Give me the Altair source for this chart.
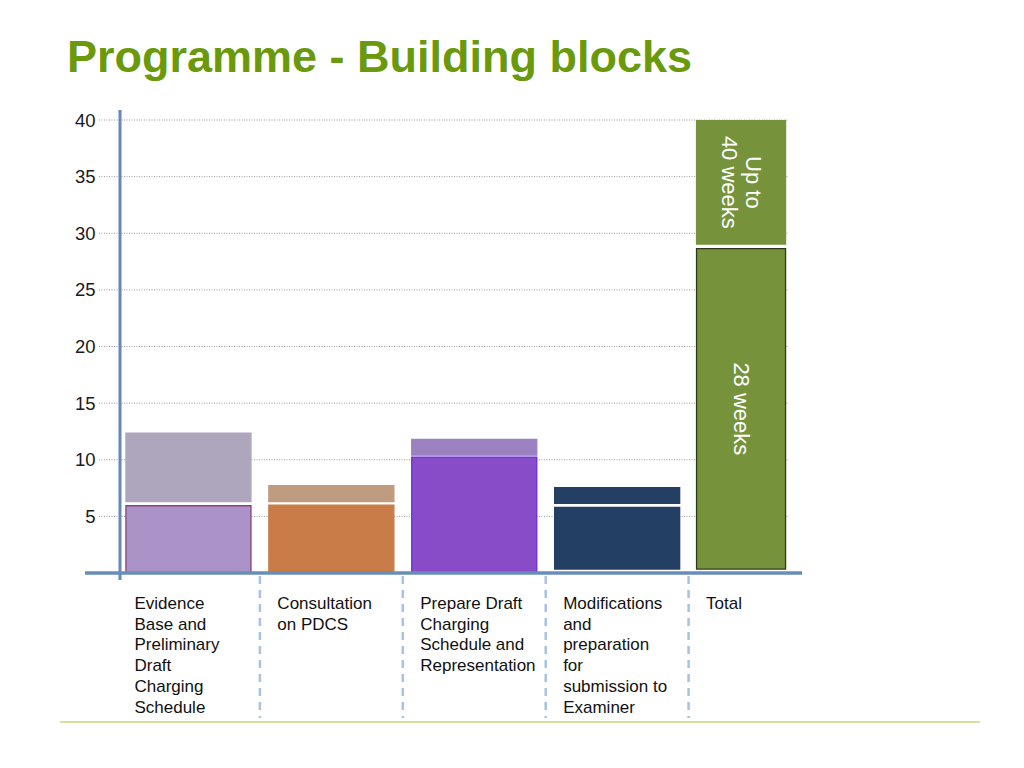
import altair as alt
import pandas as pd

# ---------------- data ----------------
categories = ["Evidence", "Consultation", "Prepare", "Modifications", "Total"]
category_labels = [
    "Evidence\nBase and\nPreliminary\nDraft\nCharging\nSchedule",
    "Consultation\non PDCS",
    "Prepare Draft\nCharging\nSchedule and\nRepresentation",
    "Modifications\nand\npreparation\nfor\nsubmission to\nExaminer",
    "Total",
]
lower_start = [0, 0, 0, 0.35, 0.35]
lower_end = [5.94, 6.0, 10.24, 5.8, 28.64]
upper_start = [6.3, 6.3, 10.4, 6.15, 29.05]
upper_end = [12.34, 7.71, 11.8, 7.53, 39.94]
total_texts = ["28 weeks", "Up to\n40 weeks"]
y_ticks = [5, 10, 15, 20, 25, 30, 35, 40]
title_text = "Programme - Building blocks"

# ---------------- styles ----------------
fill_colors = {
    "Evidence-lower": "#AB93C7", "Evidence-upper": "#AEA6BC",
    "Consultation-lower": "#C97C48", "Consultation-upper": "#BF9B80",
    "Prepare-lower": "#884CC8", "Prepare-upper": "#9C82C0",
    "Modifications-lower": "#243F64", "Modifications-upper": "#243F64",
    "Total-lower": "#76933C", "Total-upper": "#76933C",
}
stroke_colors = {
    "Evidence-lower": "#8C3F7E", "Evidence-upper": "#AEA6BC",
    "Consultation-lower": "#C97C48", "Consultation-upper": "#BF9B80",
    "Prepare-lower": "#6A2DE6", "Prepare-upper": "#9C82C0",
    "Modifications-lower": "#243F64", "Modifications-upper": "#243F64",
    "Total-lower": "#2B3A1E", "Total-upper": "#76933C",
}
keys = list(fill_colors.keys())

W, H = 711, 453
FONT = "Liberation Sans"

rows = []
for i, c in enumerate(categories):
    rows.append({"cat": c, "key": f"{c}-lower", "lo": lower_start[i], "hi": lower_end[i]})
    rows.append({"cat": c, "key": f"{c}-upper", "lo": upper_start[i], "hi": upper_end[i]})
bars = pd.DataFrame(rows)

xscale = alt.Scale(domain=categories, range=[-3, 711.5], paddingInner=0, paddingOuter=0)
yscale = alt.Scale(domain=[0, 40], nice=False, zero=True)

one = pd.DataFrame({"k": [0]})

# grid + y axis
grid = alt.Chart(pd.DataFrame({"v": y_ticks})).mark_rule(
    color="#9a9a9a", strokeDash=[1, 1.5], strokeWidth=1
).encode(
    y=alt.Y("v:Q", scale=yscale, axis=alt.Axis(
        values=y_ticks, title=None, domain=False, ticks=False, grid=False,
        labelPadding=25, labelFontSize=18.5, labelColor="#1a1a1a", labelFont=FONT)),
    x=alt.value(-21), x2=alt.value(668),
)

fill_enc = alt.Fill("key:N", scale=alt.Scale(domain=keys, range=[fill_colors[k] for k in keys]), legend=None)
stroke_enc = alt.Stroke("key:N", scale=alt.Scale(domain=keys, range=[stroke_colors[k] for k in keys]), legend=None)

bars_main = alt.Chart(bars).transform_filter(alt.datum.cat != "Total").mark_bar(
    width={"band": 0.875}, strokeWidth=1.3
).encode(
    x=alt.X("cat:N", scale=xscale, axis=None),
    y=alt.Y("lo:Q", scale=yscale),
    y2="hi:Q",
    fill=fill_enc, stroke=stroke_enc,
)

bars_total = alt.Chart(bars).transform_filter(alt.datum.cat == "Total").mark_bar(
    width=89, xOffset=-19, strokeWidth=1.3
).encode(
    x=alt.X("cat:N", scale=xscale, axis=None),
    y=alt.Y("lo:Q", scale=yscale),
    y2="hi:Q",
    fill=fill_enc, stroke=stroke_enc,
)

tt = pd.DataFrame({
    "cat": ["Total", "Total"],
    "lo": [lower_start[4], upper_start[4]],
    "hi": [lower_end[4], upper_end[4]],
    "label": total_texts,
})


def total_text_layer(label, x_off):
    return alt.Chart(tt).transform_filter(alt.datum.label == label).transform_calculate(
        mid="(datum.lo + datum.hi) / 2"
    ).mark_text(
        angle=90, color="white", fontSize=22, font=FONT, lineBreak="\n", lineHeight=24,
        align="center", baseline="middle", xOffset=x_off
    ).encode(
        x=alt.X("cat:N", scale=xscale, axis=None),
        y=alt.Y("mid:Q", scale=yscale),
        text="label:N",
    )


total_text_a = total_text_layer(total_texts[0], -19)
total_text_b = total_text_layer(total_texts[1], -7)

y_line = alt.Chart(one).mark_rule(color="#6588B8", strokeWidth=3).encode(
    x=alt.value(0), y=alt.value(-10), y2=alt.value(460))
x_line = alt.Chart(one).mark_rule(color="#6A8CB8", strokeWidth=3.5).encode(
    y=alt.value(H), x=alt.value(-35), x2=alt.value(682))

dividers = alt.Chart(pd.DataFrame({"cat": categories[1:]})).mark_rule(
    color="#A7C3E3", strokeWidth=2.5, strokeDash=[8, 6]
).encode(
    x=alt.X("cat:N", scale=xscale, axis=None, bandPosition=0),
    y=alt.value(H + 3), y2=alt.value(598),
)

xlabels = alt.Chart(pd.DataFrame({"cat": categories, "label": category_labels})).mark_text(
    align="left", baseline="top", dx=-54, lineBreak="\n", lineHeight=20.7,
    fontSize=17, font=FONT, color="#111111"
).encode(
    x=alt.X("cat:N", scale=xscale, axis=None),
    y=alt.value(476),
    text="label:N",
)

bottom_line = alt.Chart(one).mark_rule(color="#C8D67A", strokeWidth=1.5).encode(
    y=alt.value(602), x=alt.value(-60), x2=alt.value(860))

chart = alt.layer(
    grid, bars_main, bars_total, total_text_a, total_text_b,
    y_line, x_line, dividers, xlabels, bottom_line
).properties(
    width=W, height=H,
    title=alt.TitleParams(
        title_text, anchor="start", frame="group", dx=-53, dy=49, offset=41,
        baseline="alphabetic", fontSize=45, font=FONT, fontWeight="bold", color="#6A9A0B"),
    autosize=alt.AutoSizeParams(type="none"),
    padding={"left": 112, "top": 112, "right": 185, "bottom": 185},
).configure_view(stroke=None)

chart.save("out.html", embed_options={"renderer": "svg", "actions": False})
